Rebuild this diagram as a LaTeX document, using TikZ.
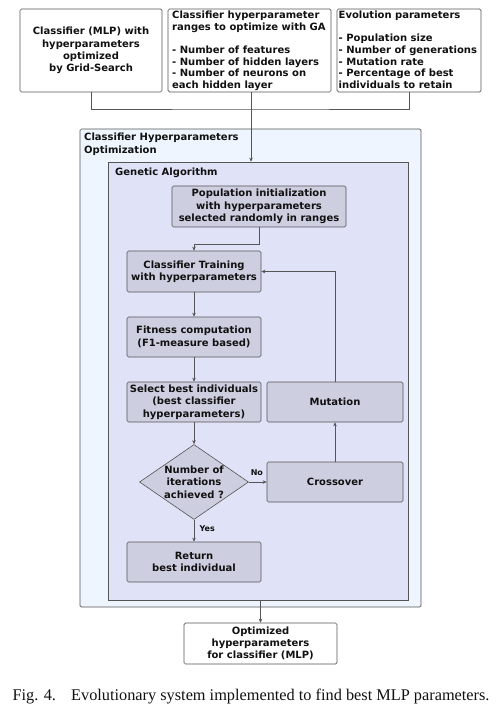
\documentclass[tikz,border=0pt]{standalone}
\usepackage{fontspec}
\setmainfont{DejaVu Sans}
\newfontfamily\capfont{Liberation Serif}
\usetikzlibrary{shapes.geometric,arrows.meta}
\definecolor{outerfill}{HTML}{EEF5FE}
\definecolor{gafill}{HTML}{E0E3F7}
\definecolor{boxfill}{HTML}{CDCFE0}
\definecolor{edge}{HTML}{555555}
\definecolor{ink}{HTML}{111111}
\begin{document}
\begin{tikzpicture}[x=1pt,y=-1pt,
  every node/.style={text=ink,font=\fontsize{10}{12.3}\selectfont\bfseries},
  whitebox/.style={draw=edge,fill=white,rounded corners=1.5pt,inner sep=0pt,line width=0.7pt},
  procbox/.style={draw=edge,fill=boxfill,rounded corners=1.5pt,inner sep=0pt,align=center,line width=0.6pt},
  decision/.style={diamond,draw=edge,fill=boxfill,inner sep=0pt,align=center,line width=0.6pt,minimum width=109pt,minimum height=75pt,aspect=1.45},
  conn/.style={draw=edge,line width=0.6pt},
  arr/.style={conn,-{Stealth[length=4pt,width=3.5pt]}},
  listtext/.style={anchor=north west,align=left,inner sep=0pt,font=\fontsize{10}{11.6}\selectfont\bfseries},
  lbl/.style={font=\fontsize{8}{9}\selectfont\bfseries}]
\useasboundingbox (0,0) rectangle (495,708);

% top input boxes
\node[whitebox,minimum width=142pt,minimum height=83pt,align=center] (b1) at (91,50.5)
  {Classifier (MLP) with\\hyperparameters\\optimized\\by Grid-Search};
\node[whitebox,minimum width=163pt,minimum height=83pt] (b2) at (249.5,50.5) {};
\node[listtext] (b2t) at (172,11)
  {Classifier hyperparameter\\ranges to optimize with GA\\[11.6pt]- Number of features\\- Number of hidden layers\\- Number of neurons on\\each hidden layer};
\node[whitebox,minimum width=144pt,minimum height=83pt] (b3) at (409,50.5) {};
\node[listtext] (b3t) at (338.5,11)
  {Evolution parameters\\[11.6pt]- Population size\\- Number of generations\\- Mutation rate\\- Percentage of best\\individuals to retain};

% containers
\node[draw=edge,fill=outerfill,rounded corners=1.5pt,line width=0.7pt,minimum width=341pt,minimum height=478pt,inner sep=0pt] (outer) at (250.5,368) {};
\node[anchor=north west,align=left,inner sep=0pt] (outerlbl) at (84,133) {Classifier Hyperparameters\\Optimization};
\node[draw=edge,fill=gafill,line width=0.6pt,minimum width=300pt,minimum height=438pt,inner sep=0pt] (ga) at (258,381) {};
\node[anchor=north west,inner sep=0pt] (galbl) at (115,168) {Genetic Algorithm};

% process nodes
\node[procbox,minimum width=174pt,minimum height=41pt] (pop) at (259,206.5)
  {Population initialization\\with hyperparameters\\selected randomly in ranges};
\node[procbox,minimum width=134pt,minimum height=41pt] (train) at (194,271.5)
  {Classifier Training\\with hyperparameters};
\node[procbox,minimum width=134pt,minimum height=40pt] (fit) at (194,337)
  {Fitness computation\\(F1-measure based)};
\node[procbox,minimum width=134pt,minimum height=40pt] (sel) at (194,402)
  {Select best individuals\\(best classifier\\hyperparameters)};
\node[procbox,minimum width=136pt,minimum height=40pt] (mut) at (335,402) {Mutation};
\node[decision] (dia) at (194,482) {Number of\\iterations\\achieved ?};
\node[procbox,minimum width=136pt,minimum height=40pt] (cross) at (335,482) {Crossover};
\node[procbox,minimum width=134pt,minimum height=40pt] (ret) at (194,562)
  {Return\\best individual};
\node[whitebox,minimum width=153pt,minimum height=41pt,align=center] (out) at (260.5,643.5)
  {Optimized\\hyperparameters\\for classifier (MLP)};

% connectors
\coordinate (j) at (251,109);
\draw[conn] (b1.south) |- (j) -| (b3.south);
\draw[arr] (b2.south -| j) -- (j |- ga.north);
\draw[arr] (pop.south) -- ++(0,17) -| (train.north);
\draw[arr] (train) -- (fit);
\draw[arr] (fit) -- (sel);
\draw[arr] (sel) -- (dia);
\draw[arr] (dia.south) -- node[lbl,right,pos=0.4,xshift=2pt] (yes) {Yes} (ret.north);
\draw[arr] (dia.east) -- node[lbl,above,pos=0.45,yshift=3pt] (no) {No} (cross.west);
\draw[arr] (cross) -- (mut);
\draw[arr] (mut.north) |- (train.east);
\draw[arr] (ga.south -| out.north) -- (out.north);

% caption
\node[font=\capfont\fontsize{16.3}{18}\selectfont,inner sep=0pt] (cap) at (251,697)
  {Fig. 4.\hspace{0.6em} Evolutionary system implemented to find best MLP parameters.};
\end{tikzpicture}
\end{document}
